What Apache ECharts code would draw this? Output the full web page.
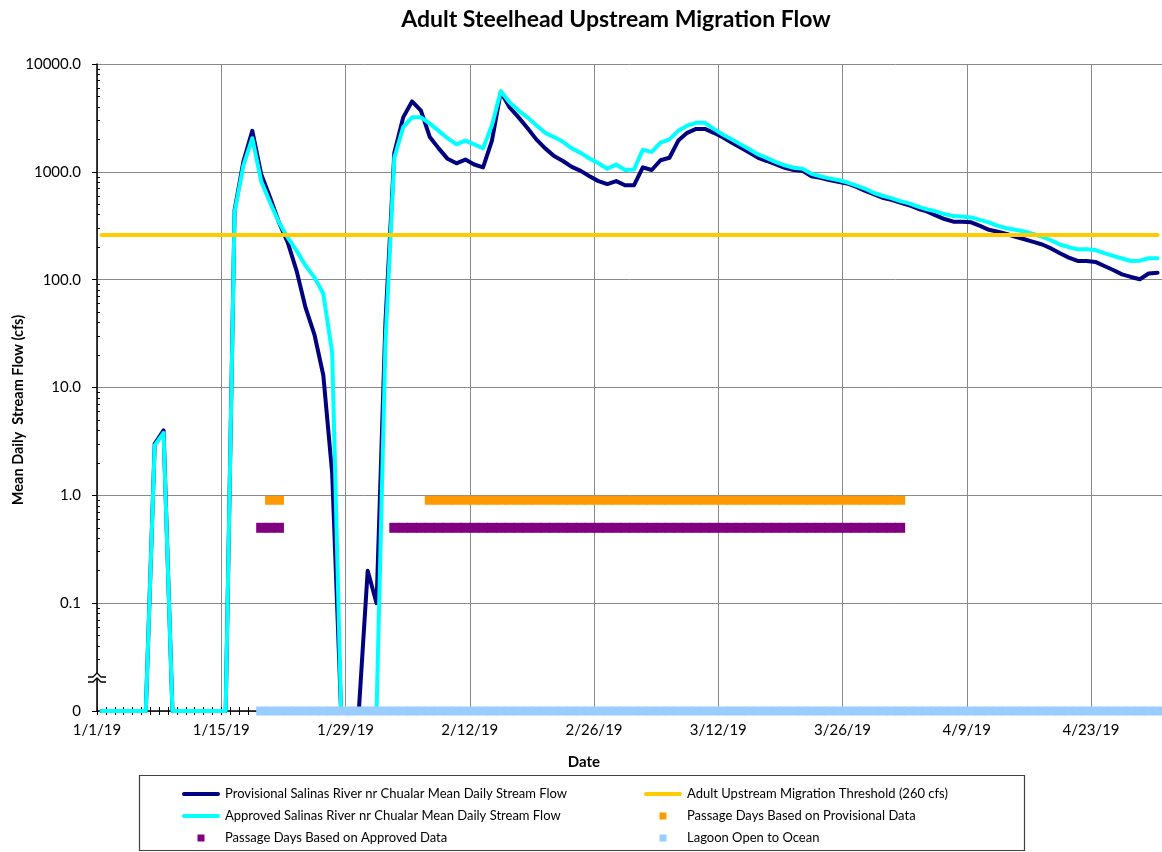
<!DOCTYPE html>
<html>
<head>
<meta charset="utf-8">
<script src="https://cdn.jsdelivr.net/npm/echarts@6/dist/echarts.min.js"></script>
<style>
  html, body { margin: 0; padding: 0; background: #fff; }
  #chart { width: 1162px; height: 852px; }
</style>
</head>
<body>
<div id="chart"></div>
<script>
// daily mean flow (cfs), one value per day from 1/1/19 to 4/30/19; 0 = no flow
const provisional = [
  0, 0, 0, 0, 0, 0, 3.0, 4.0, 0, 0, 0, 0, 0, 0, 0, 440, 1250, 2400, 950, 580,
  340, 220, 120, 55, 31, 13, 1.6, 0, 0, 0, 0.2, 0.1, 40, 1500, 3200, 4500, 3700, 2100, 1650, 1320,
  1200, 1300, 1170, 1100, 1950, 5500, 3950, 3200, 2550, 2000, 1650, 1400, 1260, 1110, 1020, 910, 820, 770, 820, 750,
  750, 1100, 1040, 1280, 1350, 1950, 2300, 2500, 2500, 2300, 2090, 1870, 1680, 1510, 1350, 1260, 1170, 1090, 1040, 1020,
  910, 880, 840, 810, 780, 730, 670, 620, 575, 550, 520, 490, 455, 430, 395, 365, 345, 345, 340, 315,
  290, 278, 265, 250, 237, 224, 212, 195, 176, 160, 149, 149, 146, 134, 123, 112, 106, 101, 114, 116
]
const approved = [
  0, 0, 0, 0, 0, 0, 2.9, 3.8, 0, 0, 0, 0, 0, 0, 0, 420, 1150, 2050, 820, 520,
  340, 245, 185, 135, 105, 74, 21, 0, 0, 0, 0, 0, 26, 1350, 2600, 3200, 3200, 2800, 2400, 2050,
  1800, 1950, 1800, 1650, 2700, 5600, 4400, 3700, 3200, 2700, 2300, 2100, 1900, 1650, 1500, 1330, 1200, 1070, 1170, 1040,
  1050, 1600, 1530, 1870, 2000, 2400, 2680, 2850, 2850, 2500, 2220, 2000, 1800, 1620, 1450, 1340, 1230, 1150, 1090, 1070,
  960, 910, 870, 840, 800, 750, 700, 640, 600, 570, 535, 510, 475, 450, 430, 405, 390, 385, 378, 358,
  340, 315, 300, 290, 280, 265, 250, 232, 212, 200, 191, 191, 188, 176, 166, 157, 149, 150, 158, 158
]
const threshold = 260

// day ranges (first, last) drawn as daily markers
const passageProvisional = [['1/20/19', '1/21/19'], ['2/7/19', '4/1/19']]
const passageApproved = [['1/19/19', '1/21/19'], ['2/3/19', '4/1/19']]
const lagoonOpen = [['1/19/19', '4/30/19']]
const passageProvisionalLevel = 0.9
const passageApprovedLevel = 0.5

const xTickLabels = ['1/1/19', '1/15/19', '1/29/19', '2/12/19', '2/26/19', '3/12/19', '3/26/19', '4/9/19', '4/23/19']
const yTickLabels = ['0', '0.1', '1.0', '10.0', '100.0', '1000.0', '10000.0']

const NAME_PROV = 'Provisional Salinas River nr Chualar Mean Daily Stream Flow'
const NAME_APPR = 'Approved Salinas River nr Chualar Mean Daily Stream Flow'
const NAME_THR = 'Adult Upstream Migration Threshold (260 cfs)'
const NAME_PP = 'Passage Days Based on Provisional Data'
const NAME_PA = 'Passage Days Based on Approved Data'
const NAME_LAG = 'Lagoon Open to Ocean'

const FLOOR = 0.01   // bottom of the log axis, labelled "0"
const DAYS = 120
const FONT = 'Lato'

function dayOf(s) {
  const [m, d] = s.split('/').map(Number)
  return Math.round((new Date(2019, m - 1, d) - new Date(2019, 0, 1)) / 864e5)
}
function expand(ranges, level) {
  const out = []
  ranges.forEach(([a, b]) => {
    for (let d = dayOf(a); d <= dayOf(b); d++) out.push([d + 0.5, level])
  })
  return out
}
const flowData = arr => arr.map((v, i) => [i + 0.5, v > 0 ? v : FLOOR])

const minorY = []
for (let e = -2; e < 4; e++) for (let k = 2; k <= 9; k++) minorY.push(+(k * Math.pow(10, e)).toPrecision(3))

const chart = echarts.init(document.getElementById('chart'), null, { renderer: 'canvas' })

const squareIcon = 'path://M0 0H10V10H0Z'
const lineIcon = 'path://M2 0H36A2 2 0 0 1 36 4H2A2 2 0 0 1 2 0Z'
const legendText = { fontFamily: FONT, fontSize: 13, color: '#000', lineHeight: 14 }
const legendBase = {
  orient: 'vertical', top: 787, padding: 0, itemWidth: 38, itemHeight: 7, itemGap: 8,
  selectedMode: false, textStyle: legendText
}

const option = {
  backgroundColor: '#fff',
  animation: false,
  title: {
    text: 'Adult Steelhead Upstream Migration Flow',
    left: 611, top: 3, textAlign: 'center',
    textStyle: { fontFamily: FONT, fontWeight: 'bold', fontSize: 23, color: '#000' }
  },
  grid: { left: 97, top: 64, width: 1067, height: 647 },
  xAxis: [
    {
      type: 'value', min: 0, max: DAYS, interval: 14,
      axisLine: { show: true, lineStyle: { color: '#000', width: 1.5 } },
      axisTick: { show: true, length: 4, lineStyle: { color: '#000', width: 1 } },
      minorTick: { show: true, splitNumber: 14, length: 4, lineStyle: { color: '#000', width: 1 } },
      axisLabel: {
        margin: 12, showMaxLabel: false,
        fontFamily: FONT, fontSize: 15, color: '#000',
        formatter: v => xTickLabels[v / 14] || ''
      },
      splitLine: { show: true, lineStyle: { color: '#8a8a8a', width: 1 } }
    },
    {
      type: 'value', min: 0, max: DAYS, interval: 14, position: 'bottom',
      axisLine: { show: false },
      axisTick: { show: true, inside: true, length: 4, lineStyle: { color: '#000', width: 1 } },
      minorTick: { show: true, splitNumber: 14, length: 4, lineStyle: { color: '#000', width: 1 } },
      axisLabel: { show: false },
      splitLine: { show: false }
    }
  ],
  yAxis: [
    {
      type: 'log', logBase: 10, min: FLOOR, max: 10000, interval: 1,
      axisLine: { show: true, lineStyle: { color: '#000', width: 1.5 } },
      axisTick: { show: true, length: 5, lineStyle: { color: '#000', width: 1 } },
      axisLabel: {
        margin: 16, fontFamily: FONT, fontSize: 15, color: '#000',
        formatter: v => yTickLabels[Math.round(Math.log10(v)) + 2]
      },
      splitLine: { show: true, lineStyle: { color: '#8a8a8a', width: 1 } }
    },
    {
      type: 'log', logBase: 10, min: FLOOR, max: 10000, position: 'left',
      axisLine: { show: false },
      axisTick: { show: true, inside: true, length: 3, customValues: minorY, lineStyle: { color: '#000', width: 1 } },
      axisLabel: { show: false },
      splitLine: { show: false }
    }
  ],
  legend: [
    Object.assign({}, legendBase, {
      left: 182,
      data: [
        { name: NAME_PROV, icon: lineIcon },
        { name: NAME_APPR, icon: lineIcon },
        { name: NAME_PA, icon: squareIcon }
      ]
    }),
    Object.assign({}, legendBase, {
      left: 644,
      data: [
        { name: NAME_THR, icon: lineIcon },
        { name: NAME_PP, icon: squareIcon },
        { name: NAME_LAG, icon: squareIcon }
      ]
    })
  ],
  series: [
    {
      name: NAME_PROV, type: 'line', data: flowData(provisional), z: 2,
      symbol: 'none', clip: false,
      lineStyle: { color: '#000080', width: 4, cap: 'round', join: 'round' },
      itemStyle: { color: '#000080' }
    },
    {
      name: NAME_APPR, type: 'line', data: flowData(approved), z: 2,
      symbol: 'none', clip: false,
      lineStyle: { color: '#00FFFF', width: 4, cap: 'round', join: 'round' },
      itemStyle: { color: '#00FFFF' }
    },
    {
      name: NAME_THR, type: 'line', z: 3,
      data: [[0.5, threshold], [DAYS - 0.5, threshold]],
      symbol: 'none', clip: false,
      lineStyle: { color: '#FFCC00', width: 4, cap: 'round' },
      itemStyle: { color: '#FFCC00' }
    },
    {
      name: NAME_PP, type: 'scatter', data: expand(passageProvisional, passageProvisionalLevel), z: 4,
      symbol: 'rect', symbolSize: [10, 9], clip: false,
      itemStyle: { color: '#FF9900', opacity: 1 }
    },
    {
      name: NAME_PA, type: 'scatter', data: expand(passageApproved, passageApprovedLevel), z: 4,
      symbol: 'rect', symbolSize: [10, 10], clip: false,
      itemStyle: { color: '#800080', opacity: 1 }
    },
    {
      name: NAME_LAG, type: 'scatter', data: expand(lagoonOpen, FLOOR), z: 4,
      symbol: 'rect', symbolSize: [10, 9], clip: false,
      itemStyle: { color: '#99CCFF', opacity: 1 }
    }
  ],
  graphic: [
    {
      type: 'text', x: 18, y: 410, rotation: Math.PI / 2,
      style: {
        text: 'Mean Daily  Stream Flow (cfs)', fontFamily: FONT, fontWeight: 'bold',
        fontSize: 14.5, fill: '#000', align: 'center', verticalAlign: 'middle'
      }
    },
    {
      type: 'text', x: 584, y: 762,
      style: {
        text: 'Date', fontFamily: FONT, fontWeight: 'bold', fontSize: 15, fill: '#000',
        align: 'center', verticalAlign: 'middle'
      }
    },
    {
      type: 'rect', shape: { x: 139.5, y: 775.5, width: 885, height: 75 },
      style: { fill: 'none', stroke: '#404040', lineWidth: 1.2 }, z: 1
    },
    // axis break mark on the y axis
    {
      type: 'polygon', z: 100,
      shape: { points: [[88, 677], [93, 677], [97, 673], [101, 677], [108, 677], [108, 682], [101, 682], [97, 678], [93, 682], [88, 682]] },
      style: { fill: '#fff' }
    },
    {
      type: 'polyline', z: 101,
      shape: { points: [[88, 677], [93, 677], [97, 673], [101, 677], [106, 677]] },
      style: { stroke: '#000', lineWidth: 1.3, fill: null }
    },
    {
      type: 'polyline', z: 101,
      shape: { points: [[88, 682], [93, 682], [97, 678], [101, 682], [106, 682]] },
      style: { stroke: '#000', lineWidth: 1.3, fill: null }
    }
  ]
}

chart.setOption(option)
</script>
</body>
</html>
